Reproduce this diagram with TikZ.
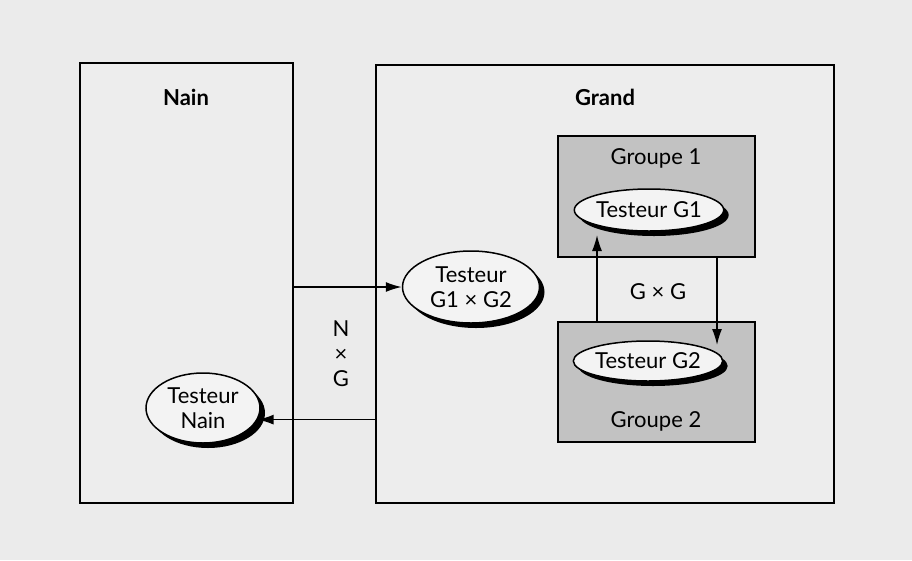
\documentclass[tikz,border=0pt]{standalone}
\usepackage{fontspec}
\setmainfont{Lato}
\usetikzlibrary{shapes.geometric,shadows,arrows.meta,calc}
\definecolor{bg}{HTML}{EBEBEB}
\definecolor{boxfill}{HTML}{EDEDED}
\definecolor{grpfill}{HTML}{C2C2C2}
\definecolor{ellfill}{HTML}{F3F3F3}
\begin{document}
\begin{tikzpicture}[x=1pt,y=-1pt,
  font=\fontsize{22}{25}\selectfont,
  bigbox/.style={draw=black,line width=1.5pt,fill=boxfill,inner sep=0pt},
  grpbox/.style={draw=black,line width=1.5pt,fill=grpfill,inner sep=0pt},
  tester/.style={ellipse,draw=black,line width=1.5pt,fill=ellfill,inner sep=0pt,align=center,
    drop shadow={shadow xshift=5pt,shadow yshift=-5pt,fill=black,opacity=1}},
  title/.style={font=\fontsize{22}{25}\selectfont\bfseries},
  arr/.style={line width=1.4pt,-{Latex[length=16pt,width=10pt]}}]
\fill[bg] (0,0) rectangle (912,560);
\useasboundingbox (0,0) rectangle (912,560);
% boxes
\node[bigbox,minimum width=213pt,minimum height=440pt] (nain) at (186.5,283) {};
\node[bigbox,minimum width=458pt,minimum height=438pt] (grand) at (605,284) {};
\node[grpbox,minimum width=197pt,minimum height=121pt] (g1) at (656.5,196.5) {};
\node[grpbox,minimum width=197pt,minimum height=120pt] (g2) at (656.5,382) {};
% titles
\node[title] (tn) at (186,97) {Nain};
\node[title] (tg) at (605,97) {Grand};
\node (tg1) at (656,158) {Groupe 1};
\node (tg2) at (656,421) {Groupe 2};
% ellipses
\node[tester,minimum width=137pt,minimum height=72pt] (e12) at (471,287) {Testeur\\G1 × G2};
\node[tester,minimum width=144pt,minimum height=42pt] (eg1) at (649,210) {Testeur G1};
\node[tester,minimum width=144pt,minimum height=40pt] (eg2) at (648,361) {Testeur G2};
\node[tester,minimum width=114pt,minimum height=70pt] (en) at (203,408) {Testeur\\Nain};
% connectors
\draw[arr] (nain.east |- e12.west) -- (e12.west);
\draw[arr] (grand.west |- en.-12) -- (en.-12);
\coordinate (up) at (597,235);
\coordinate (dn) at (717,345);
\draw[arr] (g2.north -| up) -- (up);
\draw[arr] (g1.south -| dn) -- (dn);
% labels
\node[align=center,font=\fontsize{22}{25}\selectfont] (ng) at (341,354) {N\\×\\G};
\node (gg) at (658,292) {G × G};
\end{tikzpicture}
\end{document}
